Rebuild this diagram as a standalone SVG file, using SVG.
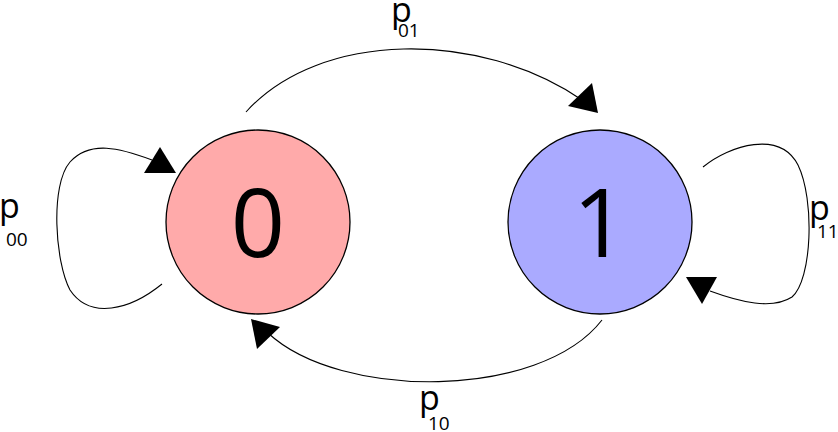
<svg xmlns="http://www.w3.org/2000/svg" width="838" height="432" viewBox="0 0 838 432">
<style>
.node{stroke:#000;stroke-width:1.3}
.edge{fill:none;stroke:#000;stroke-width:1.1}
.big{font-family:"Open Sans","Liberation Sans",sans-serif;font-size:95px;text-anchor:middle;fill:#000}
.p{font-family:"Open Sans","Liberation Sans",sans-serif;font-size:34px;fill:#000}
.s{font-family:"Open Sans","Liberation Sans",sans-serif;font-size:19px;fill:#000}
.ah{fill:#000}
</style>
<rect width="838" height="432" fill="#fff"/>
<g id="node0">
<circle class="node" cx="258" cy="222" r="92" fill="#ffaaaa"/>
<text class="big" x="258" y="257">0</text>
</g>
<g id="node1">
<circle class="node" cx="600" cy="222" r="92" fill="#aaaaff"/>
<text class="big" x="600" y="257">1</text>
</g>
<g id="connectors">
<path class="edge" d="M246,112 C320,30 480,30 582,100"/>
<polygon class="ah" points="598,113 568,106 592,83"/>
<path class="edge" d="M602,320 C540,400 340,400 268,333"/>
<polygon class="ah" points="251,319 280,327 257,349"/>
<path class="edge" d="M162,284 C130,310 90,320 70,290 C55,262 50,185 70,162 C90,140 120,148 152,160"/>
<polygon class="ah" points="176,173 144,173 160,147"/>
<path class="edge" d="M703,167 C730,145 780,130 798,165 C815,200 812,280 792,297 C772,310 740,302 710,291"/>
<polygon class="ah" points="686,277 717,277 702,304"/>
</g>
<g id="labels">
<text class="p" x="391" y="22">p</text><text class="s" x="398" y="37">01</text>
<text class="p" x="419" y="410">p</text><text class="s" x="428" y="430">10</text>
<text class="p" x="-1" y="218">p</text><text class="s" x="6" y="246">00</text>
<text class="p" x="809" y="220">p</text><text class="s" x="817" y="238">11</text>
</g>
</svg>
